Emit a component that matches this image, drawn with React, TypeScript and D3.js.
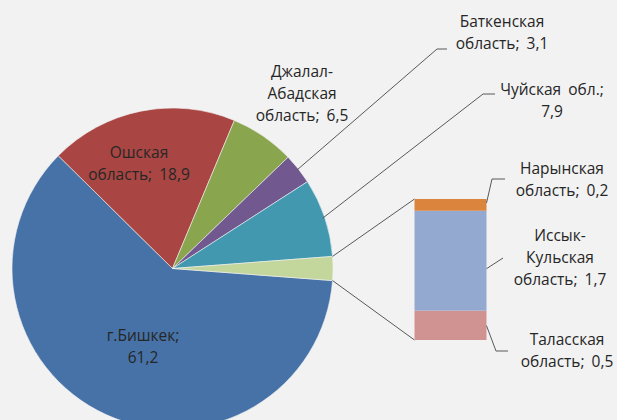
import React from "react";
import * as d3 from "d3";

const pieNames = ["г.Бишкек", "Ошская область", "Джалал-Абадская область", "Баткенская область", "Чуйская обл."];
const pieValues = [61.2, 18.9, 6.5, 3.1, 7.9];
const barNames = ["Таласская область", "Иссык-Кульская область", "Нарынская область"];
const barValues = [0.5, 1.7, 0.2];
const valueLabels = ["61,2", "18,9", "6,5", "3,1", "7,9"];
const barValueLabels = ["0,5", "1,7", "0,2"];

const pieColors = ["#4672A7", "#A94643", "#89A54E", "#71588F", "#4198AF", "#C3D69B"];
const barColors = ["#D19392", "#93A9CF", "#DB843D"];

const W = 617, H = 420;
const cx = 172.5, cy = 268.5, R = 160.5;
const barX0 = 414.5, barX1 = 486.5, barTop = 199, barBottom = 340;
const FONT = "'Open Sans', sans-serif";
const FS = 15.5;
const TEXT = "#262626";

const pieLabelLines = [
  ["г.Бишкек;", "61,2"],
  ["Ошская", "область; 18,9"],
  ["Джалал-", "Абадская", "область; 6,5"],
  ["Баткенская", "область; 3,1"],
  ["Чуйская обл.;", "7,9"],
];
const pieLabelPos = [
  [143, 336],
  [139, 153],
  [302, 72],
  [502, 22],
  [552, 90],
];
const pieLeaders: (number[][] | null)[] = [
  null,
  null,
  null,
  [[437, 49], [447, 49]],
  [[483, 94], [495, 94]],
];
const barLabelLines = [
  ["Таласская", "область; 0,5"],
  ["Иссык-", "Кульская", "область; 1,7"],
  ["Нарынская", "область; 0,2"],
];
const barLabelPos = [
  [567, 340],
  [560, 236],
  [562, 169],
];
const barLeaders = [
  [[496, 351], [508, 351]],
  [[503, 258]],
  [[492, 179], [505, 179]],
];
const LH = 22;

export default function App() {
  const otherSum = d3.sum(barValues);
  const allValues = [...pieValues, otherSum];
  const total = d3.sum(allValues);
  const start = Math.PI / 2 + (otherSum / total) * Math.PI;
  const pie = d3.pie<number>().sort(null).value((d) => d).startAngle(start).endAngle(start + 2 * Math.PI);
  const arcs = pie(allValues);
  const arcGen = d3.arc<d3.PieArcDatum<number>>().innerRadius(0).outerRadius(R);

  const y = d3.scaleLinear().domain([0, otherSum]).range([barBottom, barTop]);
  const stack: { y0: number; y1: number; v: number }[] = [];
  let acc = 0;
  barValues.forEach((v) => {
    stack.push({ y0: acc, y1: acc + v, v });
    acc += v;
  });

  const otherArc = arcs[arcs.length - 1];
  const pt = (a: number, r: number) => [cx + r * Math.sin(a), cy - r * Math.cos(a)];
  const oTop = pt(otherArc.startAngle, R);
  const oBot = pt(otherArc.endAngle, R);

  const renderLines = (lines: string[], x: number, y0: number, key: string) => (
    <text key={key} x={x} y={y0} textAnchor="middle" fontFamily={FONT} fontSize={FS} fill={TEXT} wordSpacing={3}>
      {lines.map((l, i) => (
        <tspan key={i} x={x} y={y0 + i * LH} dy="0.35em">{l}</tspan>
      ))}
    </text>
  );

  return (
    <svg width={W} height={H} style={{ position: "absolute", left: 0, top: 0 }}>
      <rect x={0} y={0} width={W} height={H} fill="#F2F2F2" />
      <g transform={`translate(${cx},${cy})`}>
        {arcs.map((a, i) => (
          <path key={i} d={arcGen(a) || ""} fill={pieColors[i]} stroke="#F2F2F2" strokeWidth={0.6} />
        ))}
      </g>
      <line x1={oTop[0]} y1={oTop[1]} x2={barX0} y2={barTop} stroke="#595959" strokeWidth={1} />
      <line x1={oBot[0]} y1={oBot[1]} x2={barX0} y2={barBottom} stroke="#595959" strokeWidth={1} />
      {stack.map((s, i) => (
        <rect key={i} x={barX0} width={barX1 - barX0} y={y(s.y1)} height={y(s.y0) - y(s.y1)} fill={barColors[i]} />
      ))}
      {pieLeaders.map((ld, i) => {
        if (!ld) return null;
        const a = arcs[i];
        const mid = (a.startAngle + a.endAngle) / 2;
        const s = pt(mid, R - 2);
        const pts = [s, ...ld];
        return <polyline key={i} points={pts.map((p) => p.join(",")).join(" ")} fill="none" stroke="#595959" strokeWidth={1} />;
      })}
      {barLeaders.map((ld, i) => {
        const s = stack[i];
        const sy = i === 0 ? y(s.y1) + 15 : i === 2 ? y(s.y1) + 4 : (y(s.y0) + y(s.y1)) / 2 + 8;
        const pts = [[barX1, sy], ...ld];
        return <polyline key={i} points={pts.map((p) => p.join(",")).join(" ")} fill="none" stroke="#595959" strokeWidth={1} />;
      })}
      {pieLabelLines.map((lines, i) => renderLines(lines, pieLabelPos[i][0], pieLabelPos[i][1], "p" + i))}
      {barLabelLines.map((lines, i) => renderLines(lines, barLabelPos[i][0], barLabelPos[i][1], "b" + i))}
    </svg>
  );
}
